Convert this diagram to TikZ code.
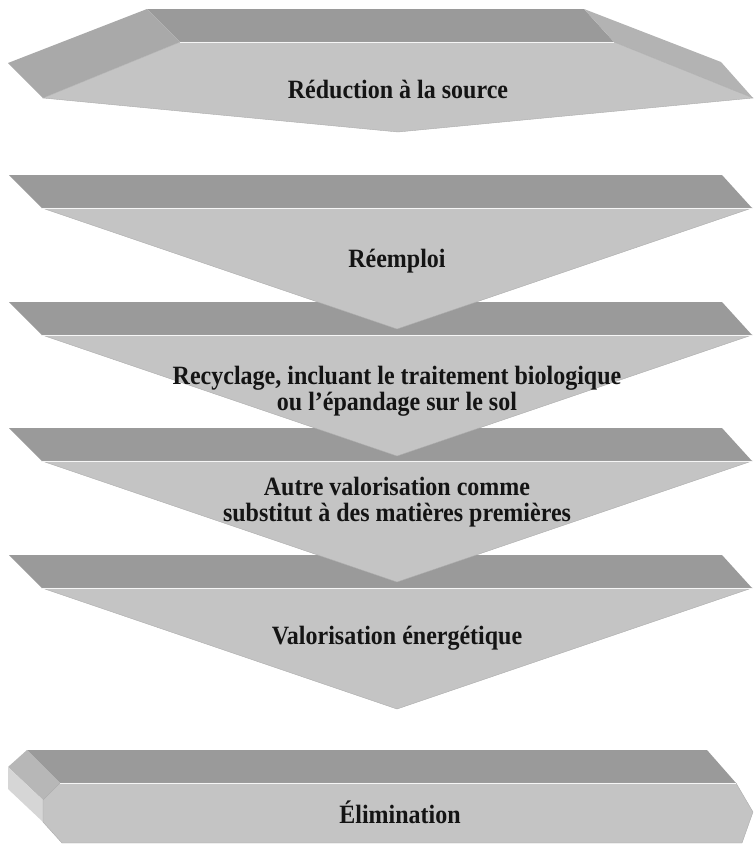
\documentclass[tikz,border=0pt]{standalone}
\usepackage{fontspec}
\setmainfont{Liberation Serif}
\usetikzlibrary{positioning}

\definecolor{topgray}{HTML}{9A9A9A}
\definecolor{frontgray}{HTML}{C4C4C4}
\definecolor{leftgray}{HTML}{A9A9A9}
\definecolor{rightgray}{HTML}{B3B3B3}
\definecolor{bevelgray}{HTML}{B7B7B7}
\definecolor{sidegray}{HTML}{D6D6D6}

\begin{document}
\begin{tikzpicture}[
    x=1pt, y=-1pt,
    topface/.style={fill=topgray},
    frontface/.style={fill=frontgray, draw=frontgray!88!black, line width=0.4pt},
    ridge/.style={draw=white!85!frontgray, line width=0.8pt},
    stagetext/.style={font=\fontsize{24}{24}\selectfont\bfseries, text=black!92, align=center, inner sep=0pt, yscale=1.1, transform shape}
]
\useasboundingbox (0,0) rectangle (754,846);

% Bottom bar
\fill[topface] (27,750) -- (707,750) -- (736,783) -- (60,783) -- cycle;
\fill[bevelgray] (27,750) -- (60,783) -- (43,800) -- (8,767) -- cycle;
\fill[sidegray] (8,767) -- (43,800) -- (43,822) -- (8,789) -- cycle;
\filldraw[frontface] (60,783) -- (736,783) -- (753,812) -- (742,843) -- (62,843) -- (43,822) -- (43,800) -- cycle;
\draw[ridge] (60,783) -- (736,783);

% Chevrons, lowest first so that each tip lies over the next bar
\begin{scope}[shift={(0,555)}]
    \fill[topface] (9,0) -- (722,0) -- (752,33) -- (42,33) -- cycle;
    \filldraw[frontface] (42,33) -- (752,33) -- (397,154) -- cycle;
    \draw[ridge] (42,33) -- (752,33);
\end{scope}
\begin{scope}[shift={(0,428)}]
    \fill[topface] (9,0) -- (722,0) -- (752,33) -- (42,33) -- cycle;
    \filldraw[frontface] (42,33) -- (752,33) -- (397,154) -- cycle;
    \draw[ridge] (42,33) -- (752,33);
\end{scope}
\begin{scope}[shift={(0,302)}]
    \fill[topface] (9,0) -- (722,0) -- (752,33) -- (42,33) -- cycle;
    \filldraw[frontface] (42,33) -- (752,33) -- (397,154) -- cycle;
    \draw[ridge] (42,33) -- (752,33);
\end{scope}
\begin{scope}[shift={(0,175)}]
    \fill[topface] (9,0) -- (722,0) -- (752,33) -- (42,33) -- cycle;
    \filldraw[frontface] (42,33) -- (752,33) -- (397,154) -- cycle;
    \draw[ridge] (42,33) -- (752,33);
\end{scope}

% Top block
\fill[topface] (147,9) -- (584,9) -- (614,42) -- (180,42) -- cycle;
\fill[leftgray] (147,9) -- (180,42) -- (43,98) -- (8,63) -- cycle;
\fill[rightgray] (584,9) -- (721,62) -- (753,98) -- (614,42) -- cycle;
\filldraw[frontface] (180,42) -- (614,42) -- (753,98) -- (398,132) -- (43,98) -- cycle;
\draw[ridge] (180,42) -- (614,42);

% Texts
\node[stagetext] (reduction) at (398,89) {Réduction à la source};
\node[stagetext] (reemploi) at (397,261) {Réemploi};
\node[stagetext] (recyclage) at (397,391) {Recyclage, incluant le traitement biologique\\ou l’épandage sur le sol};
\node[stagetext] (autre) at (397,502) {Autre valorisation comme\\substitut à des matières premières};
\node[stagetext] (energie) at (397,638) {Valorisation énergétique};
\node[stagetext] (elimination) at (400,812) {Élimination};

\end{tikzpicture}
\end{document}
